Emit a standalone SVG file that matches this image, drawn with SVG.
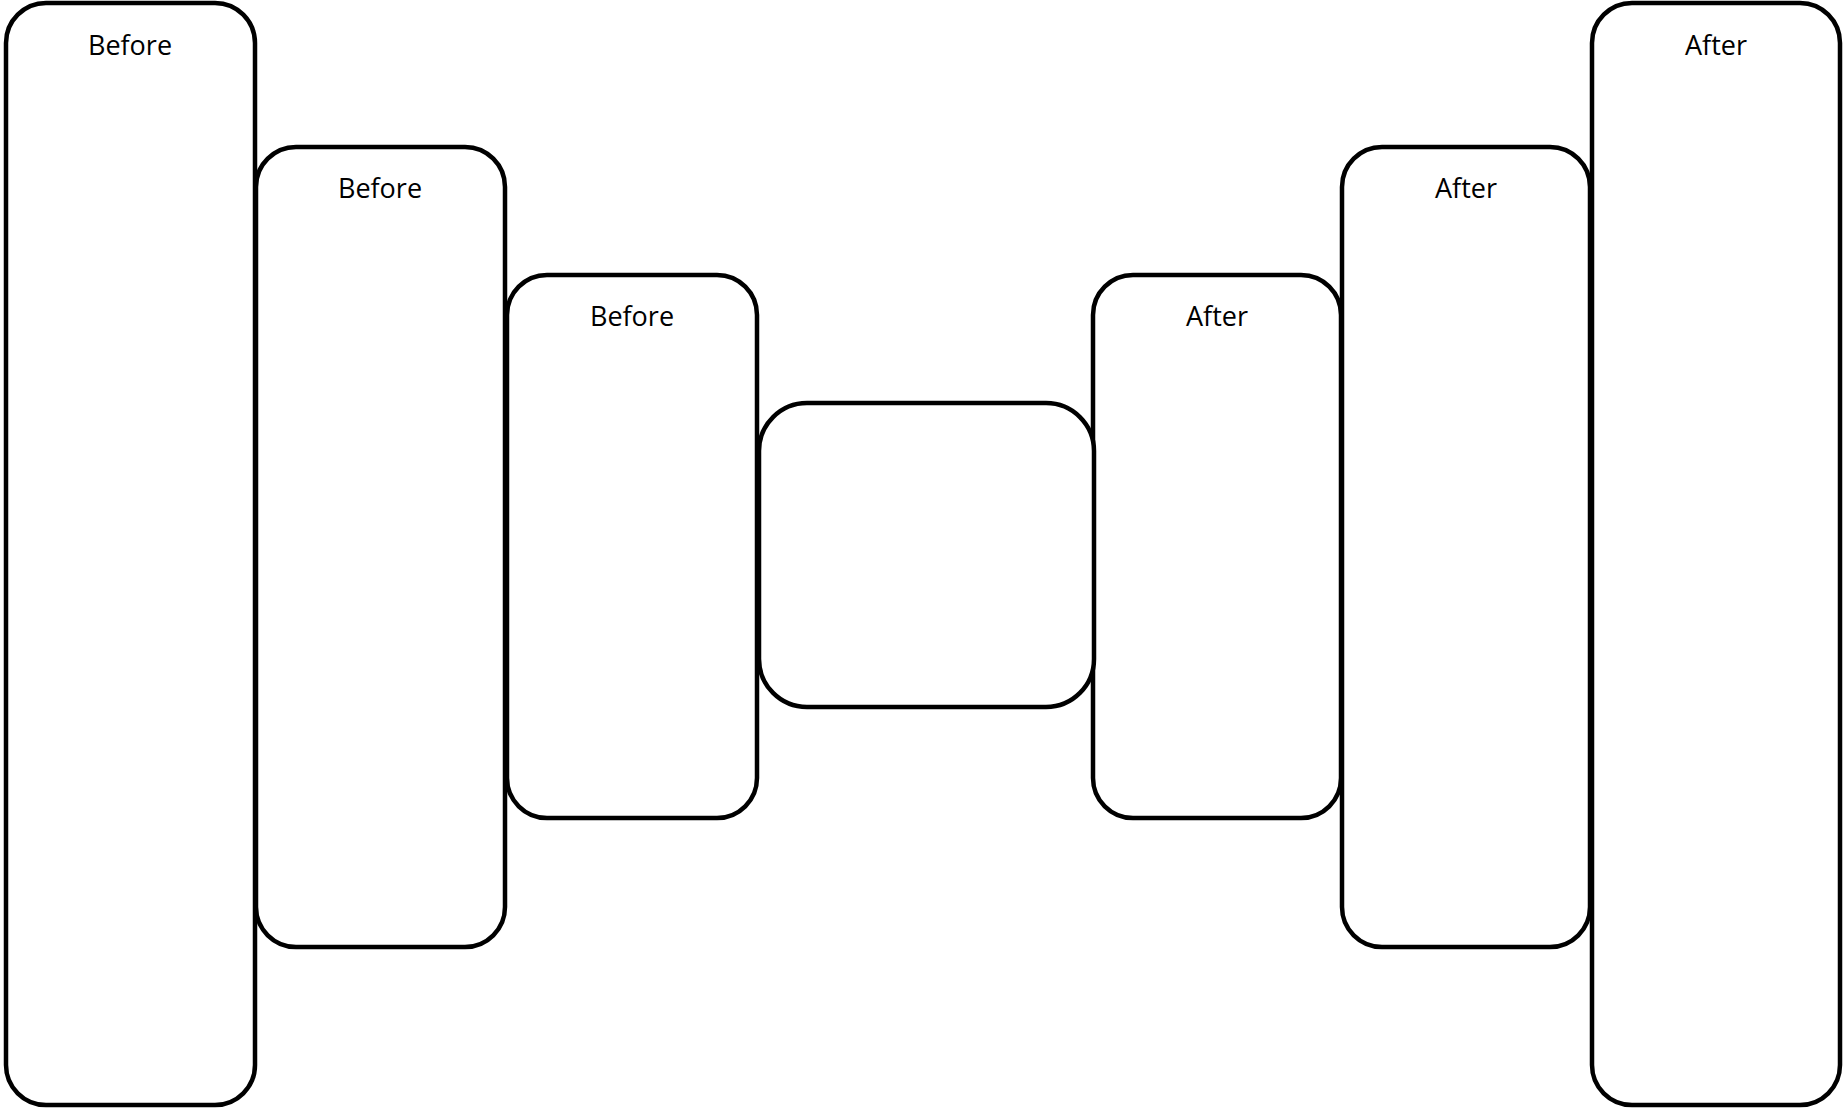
<svg xmlns="http://www.w3.org/2000/svg" width="1845" height="1108" viewBox="0 0 1845 1108">
<style>
.box{fill:#fff;stroke:#000;stroke-width:4.5}
.lbl{font-family:"Open Sans","Liberation Sans",sans-serif;font-size:27px;fill:#000;text-anchor:middle}
</style>
<rect width="1845" height="1108" fill="#fff"/>
<g id="before1"><rect class="box" x="6" y="3" width="249" height="1102" rx="40" ry="40"/><text class="lbl" x="130" y="55">Before</text></g>
<g id="after1"><rect class="box" x="1592" y="3" width="248" height="1102" rx="40" ry="40"/><text class="lbl" x="1716" y="55">After</text></g>
<g id="before2"><rect class="box" x="256" y="147" width="249" height="800" rx="40" ry="40"/><text class="lbl" x="380" y="198">Before</text></g>
<g id="after2"><rect class="box" x="1342" y="147" width="248" height="800" rx="40" ry="40"/><text class="lbl" x="1466" y="198">After</text></g>
<g id="before3"><rect class="box" x="507" y="275" width="250" height="543" rx="40" ry="40"/><text class="lbl" x="632" y="326">Before</text></g>
<g id="after3"><rect class="box" x="1093" y="275" width="248" height="543" rx="40" ry="40"/><text class="lbl" x="1217" y="326">After</text></g>
<g id="center"><rect class="box" x="759" y="403" width="335" height="304" rx="48" ry="48"/></g>
<g id="connectors"></g>
</svg>
